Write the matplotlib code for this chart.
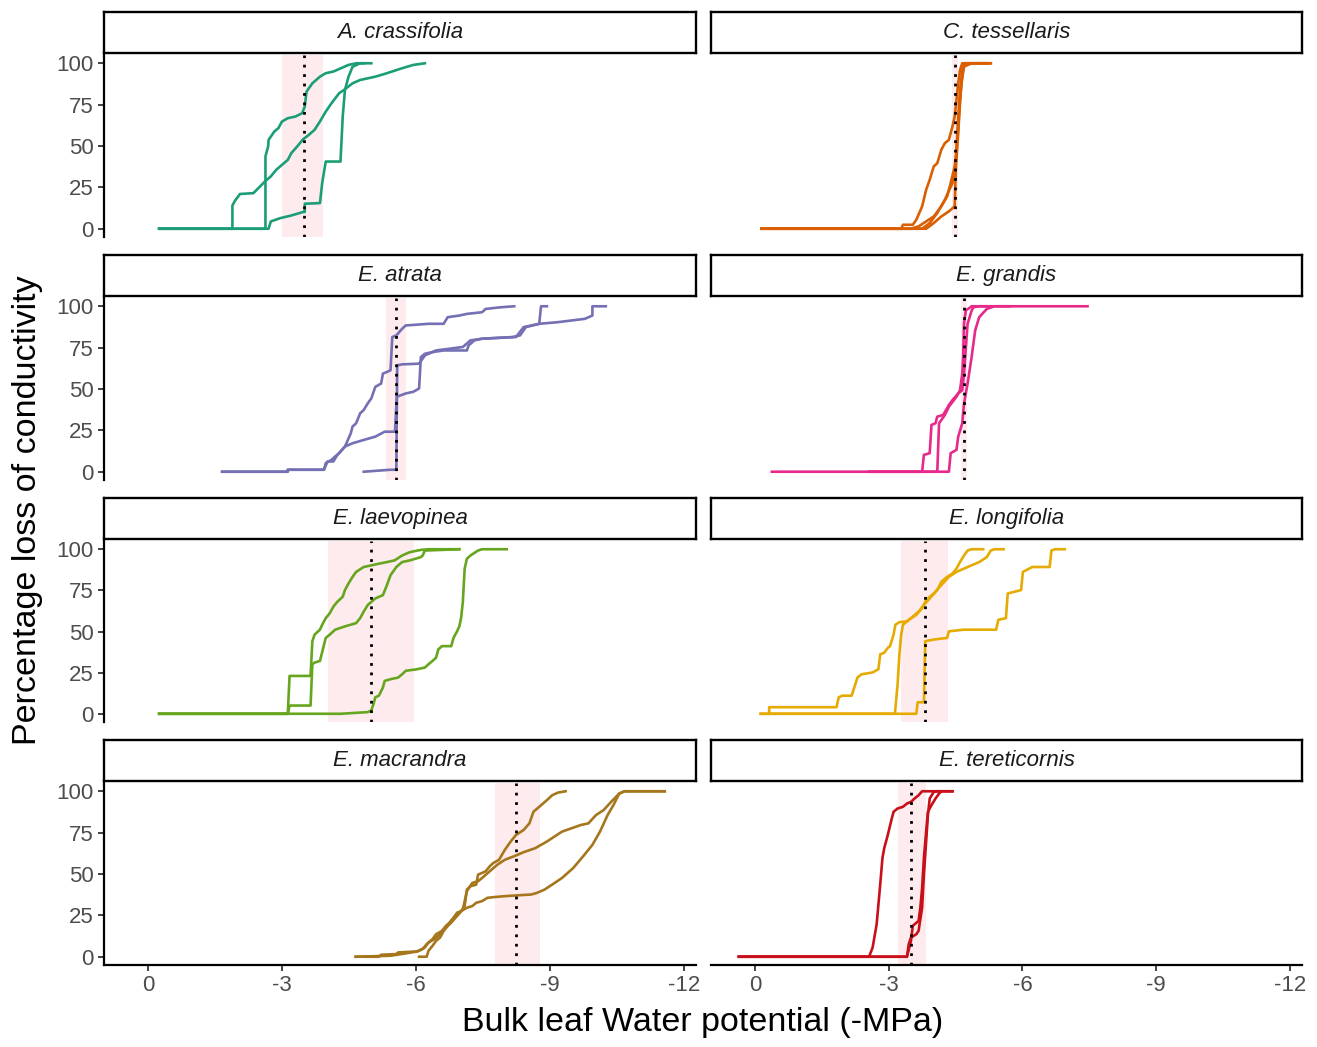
import numpy as np
import matplotlib
matplotlib.use("Agg")
import matplotlib.pyplot as plt

plt.rcParams['font.family'] = ['Liberation Sans', 'DejaVu Sans']
plt.rcParams['axes.unicode_minus'] = False

# species panels, colours and P50 (mean, lower, upper) in MPa (magnitudes)
species = ['A. crassifolia', 'C. tessellaris', 'E. atrata', 'E. grandis',
           'E. laevopinea', 'E. longifolia', 'E. macrandra', 'E. tereticornis']
colors = ['#1B9E77', '#D95F02', '#7570B3', '#E7298A',
          '#66A61E', '#E6AB02', '#A6761D', '#C8101A']
p50 = [3.49, 4.48, 5.55, 4.68, 4.99, 3.82, 8.25, 3.49]
p50_lo = [3.00, 4.42, 5.33, 4.62, 4.03, 3.27, 7.77, 3.20]
p50_hi = [3.92, 4.55, 5.78, 4.75, 5.95, 4.34, 8.78, 3.83]

# curves: (water potential magnitude, PLC %)
a_crassifolia = [
    ([0.25, 1.89, 1.89, 1.95, 2.06, 2.36, 2.62, 2.75, 2.87, 3.0, 3.13, 3.21, 3.34, 3.47, 3.6, 3.73,
      3.85, 3.98, 4.11, 4.28, 4.41, 4.58, 4.75, 4.92, 5.09, 5.35, 5.69, 5.94, 6.2],
     [0, 0, 14, 17, 21, 21.5, 28.6, 31.6, 35.6, 38.6, 41.6, 45.7, 49.7, 54, 56.7, 59.8,
      64.8, 70.8, 75.9, 81.9, 84.3, 87.9, 89.9, 90.9, 91.9, 94, 97, 99, 100]),
    ([0.25, 2.63, 2.63, 2.69, 2.70, 2.83, 2.92, 3.0, 3.13, 3.30, 3.45, 3.51, 3.55, 3.68, 3.85, 3.98,
      4.15, 4.32, 4.49, 4.66, 5.0],
     [0, 0, 43.7, 49.7, 53.7, 58.8, 60.8, 64.8, 66.8, 67.8, 69.8, 73.8, 82.9, 87.9, 91.9, 94,
      95, 97, 99, 100, 100]),
    ([0.25, 2.70, 2.75, 2.96, 3.21, 3.47, 3.51, 3.51, 3.85, 3.90, 3.98, 4.31, 4.36, 4.41, 4.49,
      4.58, 4.75, 4.83],
     [0, 0, 4.4, 6.4, 8.0, 10.1, 10.1, 15.1, 15.5, 27.6, 40.6, 40.6, 67.8, 83.9, 91.9,
      97.9, 100, 100]),
]
c_tessellaris = [
    ([0.15, 3.28, 3.32, 3.54, 3.62, 3.75, 3.84, 3.92, 4.01, 4.09, 4.18, 4.26, 4.35, 4.43, 4.48,
      4.52, 4.56, 4.60, 4.65, 5.29],
     [0, 0, 2.4, 2.4, 5.4, 13.5, 23.5, 29.6, 37.6, 39.6, 47.7, 51.7, 53.7, 61.8, 67.8,
      77.9, 87.9, 96, 100, 100]),
    ([0.15, 3.50, 3.67, 3.84, 4.01, 4.18, 4.31, 4.39, 4.48, 4.52, 4.56, 4.60, 4.65, 4.69, 5.20],
     [0, 0, 1.4, 4.4, 7.4, 13.5, 19.5, 27.6, 37.6, 47.7, 61.8, 77.9, 91.9, 100, 100]),
    ([0.15, 3.75, 3.92, 4.09, 4.26, 4.43, 4.52, 4.56, 4.59, 4.63, 4.69, 4.86, 5.29],
     [0, 0, 3.4, 9.5, 17.5, 27.6, 41.6, 57.7, 71.8, 87.9, 98, 100, 100]),
    ([0.15, 3.84, 4.01, 4.18, 4.35, 4.48, 4.52, 4.56, 4.60, 4.65, 4.73, 5.24],
     [0, 0, 3.4, 7.4, 10.5, 13.5, 47.7, 67.8, 83.9, 96, 100, 100]),
]
e_atrata = [
    ([1.66, 3.13, 3.13, 3.94, 3.98, 4.11, 4.19, 4.28, 4.41, 4.58, 4.83, 5.09, 5.30, 5.53, 5.57,
      5.77, 5.94, 6.07, 6.11, 6.20, 6.37, 6.62, 7.14, 7.18, 7.31, 7.48, 8.24, 8.41, 8.76, 9.18,
      9.78, 9.95, 9.95, 10.25],
     [0, 0, 1.2, 1.2, 5.2, 7.2, 9.2, 11.2, 15.2, 17.2, 19.2, 21.2, 24.2, 24.2, 45.3,
      47.3, 48.3, 50.3, 69.3, 71.3, 72.3, 73.3, 73.3, 76.4, 79.4, 80.4, 81.4, 87.4, 89.4, 90.4,
      92.4, 94.4, 100, 100]),
    ([1.66, 3.13, 3.13, 3.94, 4.02, 4.15, 4.24, 4.41, 4.54, 4.58, 4.66, 4.75, 4.83, 4.92, 5.0,
      5.09, 5.22, 5.26, 5.35, 5.43, 5.47, 5.56, 5.69, 5.77, 6.28, 6.62, 6.71, 6.97, 7.14, 7.48,
      7.56, 7.90, 8.20],
     [0, 0, 1.2, 1.2, 6.2, 6.2, 10.2, 15.2, 23.2, 27.3, 29.3, 35.3, 37.3, 41.3, 44.3,
      51.3, 53.3, 59.3, 60.3, 61.3, 81.4, 82.4, 86.4, 88.4, 89.4, 89.4, 93.4, 94.4, 95.4, 96.4,
      98.4, 99.4, 100]),
    ([4.83, 5.43, 5.56, 5.58, 5.69, 6.07, 6.20, 6.45, 7.05, 7.22, 7.48, 8.16, 8.33, 8.46, 8.76,
      8.80, 8.93],
     [0, 1.2, 1.2, 64.3, 64.9, 65.3, 70.3, 73.3, 75.4, 79.4, 80.4, 81.4, 82.4, 87.4, 89.4,
      100, 100]),
]
e_grandis = [
    ([0.38, 3.75, 3.79, 3.92, 3.96, 4.05, 4.09, 4.22, 4.31, 4.35, 4.43, 4.56, 4.65, 4.69, 4.77,
      4.86, 4.90, 5.03, 7.46],
     [0, 0, 10.2, 11.2, 28.3, 29.3, 33.3, 34.3, 38.3, 40.3, 43.3, 47.3, 49.3, 59.3, 89.4,
      97.4, 99.4, 100, 100]),
    ([2.56, 4.09, 4.13, 4.26, 4.35, 4.52, 4.60, 4.65, 4.67, 4.69, 4.73, 4.86, 5.20],
     [0, 0, 29.3, 34.3, 39.3, 45.3, 49.3, 59.3, 69.3, 89.4, 97.4, 100, 100]),
    ([2.56, 4.35, 4.39, 4.52, 4.56, 4.65, 4.69, 4.77, 4.86, 4.94, 5.03, 5.20, 5.37, 5.71],
     [0, 0, 11.2, 13.2, 21.2, 29.3, 41.3, 53.3, 69.3, 85.4, 93.4, 98.4, 100, 100]),
]
e_laevopinea = [
    ([0.25, 3.13, 3.17, 3.64, 3.68, 3.73, 3.85, 3.90, 3.98, 4.07, 4.15, 4.24, 4.36, 4.41, 4.49,
      4.58, 4.66, 4.83, 5.0, 5.17, 5.35, 5.52, 5.69, 5.86, 6.11, 6.28, 6.97],
     [0, 0, 23.0, 23.0, 44.1, 48.1, 51.1, 54.1, 58.1, 61.1, 65.1, 68.1, 71.1, 75.2, 79.2,
      83.2, 86.2, 89.2, 90.2, 91.2, 92.2, 93.2, 96.2, 98.2, 99.6, 100, 100]),
    ([0.25, 3.13, 3.17, 3.64, 3.68, 3.73, 3.85, 3.98, 4.07, 4.19, 4.41, 4.66, 4.75, 4.83, 4.92,
      5.09, 5.26, 5.35, 5.43, 5.56, 5.69, 5.86, 6.11, 6.15, 6.20, 6.97],
     [0, 0, 5.0, 5.0, 30.1, 31.1, 32.1, 46.1, 48.1, 51.1, 53.1, 55.1, 58.1, 62.1, 66.1,
      70.1, 72.1, 78.2, 84.2, 89.2, 92.2, 93.2, 95.2, 96.2, 99.2, 100]),
    ([0.25, 4.32, 4.92, 5.0, 5.05, 5.09, 5.17, 5.26, 5.30, 5.43, 5.60, 5.69, 5.77, 6.03, 6.20,
      6.28, 6.37, 6.45, 6.50, 6.58, 6.79, 6.84, 6.92, 6.97, 7.01, 7.05, 7.09, 7.14, 7.22, 7.39,
      7.48, 8.03],
     [0, 0, 1.0, 2.0, 6.0, 10.0, 11.0, 16.0, 20.0, 21.0, 22.0, 24.0, 26.1, 27.1, 28.1,
      30.1, 32.1, 34.1, 39.1, 41.1, 41.1, 46.1, 50.1, 53.1, 58.1, 68.1, 88.2, 94.2, 96.2, 99.2,
      100, 100]),
]
e_longifolia = [
    ([0.32, 0.32, 1.83, 1.88, 1.96, 2.17, 2.30, 2.39, 2.64, 2.77, 2.81, 2.90, 2.98, 3.03, 3.11,
      3.15, 3.24, 3.41, 3.50, 3.67, 3.79, 3.92, 4.09, 4.18, 4.31, 4.43, 4.52, 4.60, 4.69, 4.77,
      4.86, 5.12],
     [0, 4.0, 4.0, 10.0, 11.0, 11.0, 22.0, 24.0, 25.1, 27.1, 36.1, 37.1, 40.1, 41.1, 48.1,
      54.1, 55.7, 56.1, 58.1, 62.1, 66.1, 70.1, 75.2, 80.2, 83.2, 85.2, 88.2, 92.2, 96.2, 99.2,
      100, 100]),
    ([0.13, 3.14, 3.20, 3.24, 3.28, 3.32, 3.45, 3.62, 3.75, 3.84, 4.01, 4.18, 4.35, 4.52, 4.77,
      5.03, 5.20, 5.29, 5.37, 5.58],
     [0, 0, 18.0, 36.1, 48.1, 54.1, 57.1, 60.1, 64.1, 69.1, 73.1, 78.2, 83.2, 86.2, 89.2,
      92.2, 95.2, 99.2, 100, 100]),
    ([0.13, 3.62, 3.65, 3.79, 3.82, 4.01, 4.31, 4.35, 4.69, 5.41, 5.46, 5.63, 5.67, 5.97, 6.01,
      6.22, 6.61, 6.65, 6.73, 6.95],
     [0, 0, 7.0, 7.0, 44.1, 45.1, 46.1, 50.1, 51.1, 51.1, 57.1, 58.1, 73.1, 75.2, 86.2,
      89.2, 89.2, 99.2, 100, 100]),
]
e_macrandra = [
    ([4.65, 5.17, 5.22, 5.56, 5.60, 6.03, 6.15, 6.24, 6.37, 6.45, 6.58, 6.67, 6.75, 6.84, 6.92,
      7.01, 7.09, 7.14, 7.22, 7.35, 7.39, 7.56, 7.65, 7.73, 7.86, 7.99, 8.12, 8.24, 8.41, 8.54,
      8.63, 8.76, 8.93, 9.05, 9.18, 9.35],
     [0, 0, 1.2, 1.6, 2.6, 3.2, 4.6, 7.6, 10.6, 13.6, 15.6, 18.6, 20.6, 23.6, 26.6,
      27.6, 30.6, 40.6, 42.6, 43.6, 49.6, 51.6, 54.6, 56.6, 58.6, 64.6, 69.6, 73.6, 76.6, 80.6,
      87.6, 90.6, 94.6, 97.6, 99.2, 100]),
    ([4.65, 5.43, 5.77, 6.03, 6.20, 6.28, 6.41, 6.54, 6.67, 6.79, 6.92, 7.05, 7.14, 7.26, 7.39,
      7.48, 7.65, 7.82, 7.99, 8.24, 8.41, 8.67, 8.93, 9.10, 9.27, 9.52, 9.69, 9.86, 10.03, 10.2,
      10.37, 10.55, 10.67, 11.57],
     [0, 0.6, 2.0, 3.2, 5.6, 8.6, 10.6, 13.6, 17.6, 20.6, 24.6, 28.6, 39.6, 44.6, 45.6,
      47.6, 51.6, 55.6, 58.6, 61.2, 63.2, 65.6, 69.6, 72.6, 75.6, 78.0, 79.6, 80.6, 85.6, 88.6,
      93.6, 98.6, 100, 100]),
    ([6.07, 6.24, 6.28, 6.37, 6.45, 6.54, 6.62, 6.71, 6.79, 6.92, 7.01, 7.14, 7.26, 7.35, 7.48,
      7.60, 7.73, 7.99, 8.33, 8.58, 8.71, 8.88, 9.05, 9.27, 9.52, 9.74, 9.95, 10.12, 10.29, 10.42,
      10.55, 10.67, 11.57],
     [0, 0, 3.6, 6.6, 9.6, 11.6, 15.6, 18.6, 21.6, 25.6, 27.6, 29.6, 30.6, 32.6, 33.6,
      35.6, 36.0, 36.6, 37.2, 37.6, 38.6, 40.6, 43.6, 47.6, 53.6, 60.6, 67.6, 75.6, 85.6, 91.6,
      98.6, 100, 100]),
]
e_tereticornis = [
    ([-0.36, 2.56, 2.64, 2.73, 2.81, 2.86, 2.90, 2.98, 3.07, 3.11, 3.20, 3.32, 3.41, 3.50, 3.58,
      3.67, 3.75, 4.43],
     [0, 0, 5.6, 19.6, 43.6, 59.6, 65.6, 73.6, 83.6, 87.6, 89.6, 90.6, 92.6, 93.6, 95.6,
      97.6, 100, 100]),
    ([-0.36, 3.41, 3.45, 3.50, 3.62, 3.67, 3.75, 3.79, 3.84, 3.88, 3.92, 4.01, 4.09, 4.18],
     [0, 0, 7.6, 11.6, 13.6, 15.6, 29.6, 49.6, 69.6, 85.6, 95.6, 99.6, 100, 100]),
    ([-0.36, 3.41, 3.50, 3.54, 3.58, 3.67, 3.71, 3.75, 3.79, 3.84, 3.88, 3.96, 4.05, 4.13, 4.18,
      4.43],
     [0, 0, 9.6, 18.6, 19.6, 21.6, 29.6, 41.6, 59.6, 75.6, 87.6, 91.6, 95.6, 98.6, 100, 100]),
]
curves = [a_crassifolia, c_tessellaris, e_atrata, e_grandis,
          e_laevopinea, e_longifolia, e_macrandra, e_tereticornis]

W, H = 1317, 1047
fig = plt.figure(figsize=(W / 100, H / 100), dpi=100)


def box(x0, y0, x1, y1):
    return [x0 / W, 1 - y1 / H, (x1 - x0) / W, (y1 - y0) / H]


cols = [(104, 696), (711, 1302)]
rows = [(12, 53, 55, 237), (255, 296, 298, 480), (498, 539, 541, 722), (740, 781, 783, 965)]

for i, name in enumerate(species):
    r, c = divmod(i, 2)
    cx0, cx1 = cols[c]
    sy0, sy1, py0, py1 = rows[r]

    ax = fig.add_axes(box(cx0, py0, cx1, py1))
    ax.axvspan(-p50_lo[i], -p50_hi[i], color='#FDEBEE', lw=0, zorder=0)
    for xs, ys in curves[i]:
        ax.plot(-np.array(xs), ys, color=colors[i], lw=1.9, zorder=2)
    ax.axvline(-p50[i], color='black', ls=(0, (1, 2.4)), lw=2.0, zorder=3)
    ax.set_xlim(0.985, -12.27)
    ax.set_ylim(-5, 105)
    for s in ['top', 'right']:
        ax.spines[s].set_visible(False)
    ax.spines['left'].set_visible(c == 0)
    ax.spines['bottom'].set_visible(r == 3)
    for s in ['left', 'bottom']:
        ax.spines[s].set_linewidth(1.6)
    ax.tick_params(width=1.3, length=4.5, pad=3, labelsize=16, labelcolor='#4D4D4D', color='#333333')
    if c == 0:
        ax.set_yticks([0, 25, 50, 75, 100])
    else:
        ax.set_yticks([])
    if r == 3:
        ax.set_xticks([0, -3, -6, -9, -12])
        ax.set_xticklabels(['0', '-3', '-6', '-9', '-12'])
    else:
        ax.set_xticks([])

    st = fig.add_axes(box(cx0, sy0, cx1, sy1))
    st.set_xticks([])
    st.set_yticks([])
    for s in st.spines.values():
        s.set_linewidth(1.7)
    st.text(0.5, 0.5, name, style='italic', fontsize=16, ha='center', va='center',
            color='#1A1A1A', transform=st.transAxes)

fig.text(28 / W, 1 - 510 / H, 'Percentage loss of conductivity', rotation=90,
         fontsize=24.5, ha='center', va='center')
fig.text(703 / W, 1 - 1022 / H, 'Bulk leaf Water potential (-MPa)',
         fontsize=24.5, ha='center', va='center')

fig.savefig('out.png', dpi=100)
